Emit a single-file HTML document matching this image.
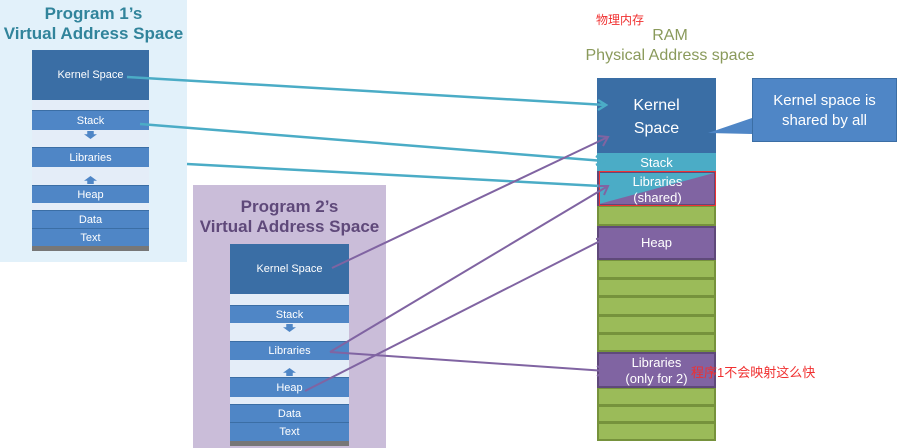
<!DOCTYPE html>
<html><head><meta charset="utf-8"><style>
body{margin:0;width:897px;height:448px;overflow:hidden;background:#fff;position:relative;font-family:"Liberation Sans","Noto Sans CJK SC",sans-serif}
div{position:absolute;box-sizing:border-box}
.b{background:#4f86c6;border-top:1px solid #3b6ea5;color:#fff;font-size:11px;text-align:center}
.g{background:#e4edf8;border:1px solid #4f86c6}
.k{background:#3a6ea5;color:#fff;font-size:11px;text-align:center}
.gr{background:#9bbb59;border:2px solid #76923c;border-top-width:1px}
.pu{background:#8064a2;border:2px solid #5f497a;color:#fff;font-size:13px;text-align:center;line-height:16px}
.t1{color:#31849b;font-weight:bold;font-size:17px;text-align:center;line-height:20px}
.t2{color:#5f497a;font-weight:bold;font-size:17px;text-align:center;line-height:20px}
</style></head><body>
<div style="left:0;top:0;width:187px;height:262px;background:#e2f1fa"></div>
<div class="t1" style="left:0;top:4px;width:187px">Program 1’s<br>Virtual Address Space</div>
<div style="left:32px;top:50px;width:117px;height:201px;background:#e4edf8">
<div class="k" style="left:0;top:0;width:117px;height:50px;line-height:50px">Kernel Space</div>
<div class="b" style="left:0;top:60px;width:117px;height:20px;line-height:20px">Stack</div>
<div class="b" style="left:0;top:97px;width:117px;height:20px;line-height:20px">Libraries</div>
<div class="b" style="left:0;top:135px;width:117px;height:18px;line-height:18px">Heap</div>
<div class="b" style="left:0;top:160px;width:117px;height:18px;line-height:18px">Data</div>
<div class="b" style="left:0;top:178px;width:117px;height:18px;line-height:18px">Text</div>
<div style="left:0;top:196px;width:117px;height:5px;background:#777"></div>
<div style="left:52px;top:81px;width:13px;height:8px;background:#4f86c6;clip-path:polygon(25% 0,75% 0,75% 40%,100% 40%,50% 100%,0 40%,25% 40%)"></div>
<div style="left:52px;top:126px;width:13px;height:8px;background:#4f86c6;clip-path:polygon(50% 0,100% 60%,75% 60%,75% 100%,25% 100%,25% 60%,0 60%)"></div>
</div>

<div style="left:193px;top:185px;width:193px;height:263px;background:#cabdd9"></div>
<div class="t2" style="left:193px;top:197px;width:193px">Program 2’s<br>Virtual Address Space</div>
<div style="left:230px;top:244px;width:119px;height:202px;background:#e4edf8">
<div class="k" style="left:0;top:0;width:119px;height:50px;line-height:50px">Kernel Space</div>
<div class="b" style="left:0;top:61px;width:119px;height:18px;line-height:18px">Stack</div>
<div class="b" style="left:0;top:97px;width:119px;height:19px;line-height:19px">Libraries</div>
<div class="b" style="left:0;top:133px;width:119px;height:20px;line-height:20px">Heap</div>
<div class="b" style="left:0;top:160px;width:119px;height:18px;line-height:18px">Data</div>
<div class="b" style="left:0;top:178px;width:119px;height:19px;line-height:19px">Text</div>
<div style="left:0;top:197px;width:119px;height:5px;background:#777"></div>
<div style="left:53px;top:80px;width:13px;height:8px;background:#4f86c6;clip-path:polygon(25% 0,75% 0,75% 40%,100% 40%,50% 100%,0 40%,25% 40%)"></div>
<div style="left:53px;top:124px;width:13px;height:8px;background:#4f86c6;clip-path:polygon(50% 0,100% 60%,75% 60%,75% 100%,25% 100%,25% 60%,0 60%)"></div>
</div>

<div style="left:560px;top:11px;width:120px;text-align:center;color:#f03030;font-size:12px">物理内存</div>
<div style="left:560px;top:26px;width:220px;text-align:center;color:#8a9a5b;font-size:16px;line-height:20px">RAM<br>Physical Address space</div>

<div style="left:597px;top:78px;width:119px;height:75px;background:#3a6ea5;color:#fff;font-size:16px;text-align:center;line-height:23px;padding-top:16px">Kernel<br>Space</div>
<div style="left:597px;top:153px;width:119px;height:18px;background:#4bacc6;color:#fff;font-size:13px;text-align:center;line-height:20px">Stack</div>
<div style="left:597px;top:171px;width:119px;height:35px;background:#8064a2;border:2px solid #5f497a"></div>
<div style="left:599px;top:173px;width:115px;height:31px;background:#4bacc6;clip-path:polygon(0 0,100% 0,0 100%)"></div>
<div style="left:599px;top:171px;width:117px;height:35px;border:1px solid #e33;color:#fff;font-size:13px;text-align:center;line-height:16px;padding-top:2px">Libraries<br>(shared)</div>
<div class="gr" style="left:597px;top:206px;width:119px;height:20px"></div>
<div class="pu" style="left:597px;top:226px;width:119px;height:34px;line-height:30px">Heap</div>
<div class="gr" style="left:597px;top:260px;width:119px;height:19px"></div>
<div class="gr" style="left:597px;top:279px;width:119px;height:18px"></div>
<div class="gr" style="left:597px;top:297px;width:119px;height:19px"></div>
<div class="gr" style="left:597px;top:316px;width:119px;height:18px"></div>
<div class="gr" style="left:597px;top:334px;width:119px;height:18px"></div>
<div class="pu" style="left:597px;top:352px;width:119px;height:36px;padding-top:1px">Libraries<br>(only for 2)</div>
<div class="gr" style="left:597px;top:388px;width:119px;height:18px"></div>
<div class="gr" style="left:597px;top:406px;width:119px;height:17px"></div>
<div class="gr" style="left:597px;top:423px;width:119px;height:18px"></div>
<div style="left:691px;top:362px;color:#f03030;font-size:13px">程序1不会映射这么快</div>

<svg style="position:absolute;left:0;top:0" width="897" height="448">
<polygon points="752,118 708,133 752,134" fill="#4f86c6"/>
<g stroke="#4bacc6" stroke-width="2.5" fill="none">
<line x1="127" y1="77" x2="606" y2="105"/><polyline points="598,100 606,105 598,110"/>
<line x1="140" y1="124" x2="604" y2="161"/><polyline points="596,156 604,161 596,165"/>
<line x1="187" y1="164" x2="600" y2="186"/>
</g>
<g stroke="#8064a2" stroke-width="2" fill="none">
<line x1="332" y1="268" x2="608" y2="137"/><polyline points="598,136 608,137 603,146"/>
<line x1="330" y1="352" x2="608" y2="186"/><polyline points="598,186 608,186 604,195"/>
<line x1="305" y1="391" x2="606" y2="238"/><polyline points="596,239 606,238 602,247"/>
<line x1="330" y1="352" x2="606" y2="371"/><polyline points="597,366 606,371 597,376"/>
</g>
</svg>
<div style="left:752px;top:78px;width:145px;height:64px;background:#4f86c6;border:1px solid #3b6ea5;color:#fff;font-size:15px;text-align:center;line-height:20px;padding-top:12px">Kernel space is<br>shared by all</div>
</body></html>
